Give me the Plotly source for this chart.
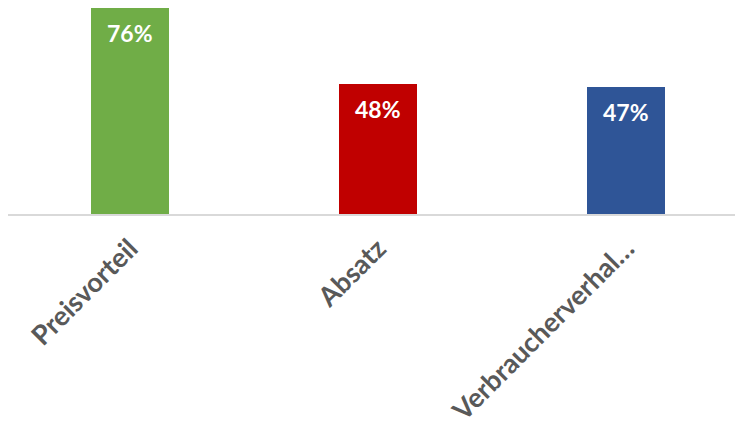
import plotly.graph_objects as go

categories = ["Preisvorteil", "Absatz", "Verbraucherverhal…"]
values = [76, 48, 47]
colors = ["#70AD47", "#C00000", "#2F5597"]

FONT = "Lato"

fig = go.Figure()

fig.add_trace(go.Bar(
    x=categories,
    y=values,
    marker=dict(color=colors, line=dict(width=0)),
    width=0.314,
    hoverinfo="skip",
))

# value labels near the top of each bar
for cat, val in zip(categories, values):
    fig.add_annotation(
        x=cat, y=val,
        xref="x", yref="y",
        text=f"<b>{val}%</b>",
        showarrow=False,
        yanchor="top",
        yshift=-9,
        font=dict(size=23, family=FONT, color="#FFFFFF"),
    )

# page body has an 8px margin, so the figure is offset by 8px in the window
fig.update_xaxes(
    range=[-0.4915, 2.4698],
    automargin=False,
    showline=True,
    linecolor="#D9D9D9",
    linewidth=2,
    showgrid=False,
    ticks="",
    tickangle=-45,
    ticklabelstandoff=6,
    tickfont=dict(size=27, family=FONT, color="#595959", weight="bold"),
)
fig.update_yaxes(visible=False, range=[0, 76.05], automargin=False)

fig.update_layout(
    width=735,
    height=417,
    margin=dict(l=0, r=0, t=0, b=211),
    paper_bgcolor="#FFFFFF",
    plot_bgcolor="#FFFFFF",
    showlegend=False,
    bargap=0,
)

fig.write_html("out.html")
